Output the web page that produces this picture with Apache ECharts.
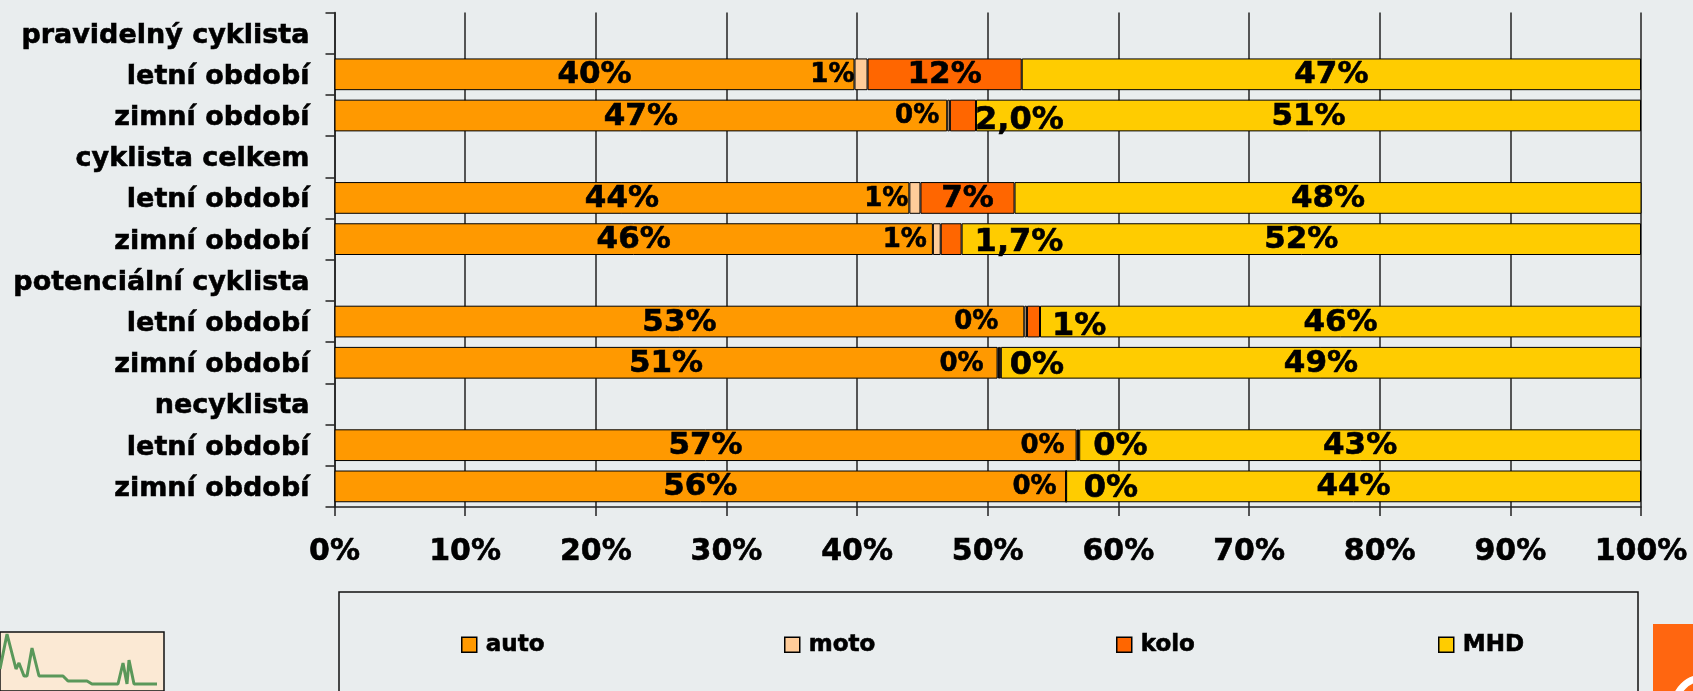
<!DOCTYPE html>
<html><head><meta charset="utf-8">
<style>html,body{margin:0;padding:0;background:#E9EDEE;overflow:hidden}#c{width:1693px;height:691px}</style>
<script src="https://cdn.jsdelivr.net/npm/echarts@6/dist/echarts.min.js"></script>
</head><body><div id="c"></div>
<script>
const categories = ['pravidelný cyklista','letní období','zimní období','cyklista celkem','letní období','zimní období','potenciální cyklista','letní období','zimní období','necyklista','letní období','zimní období'];
const auto = [null,39.8,46.9,null,44.0,45.8,null,52.8,50.75,null,56.8,56.0];
const moto = [null,1.0,0.2,null,0.85,0.6,null,0.2,0.1,null,0.1,0.0];
const kolo = [null,11.8,2.0,null,7.2,1.6,null,1.0,0.15,null,0.1,0.0];
const mhd  = [null,47.4,50.9,null,48.0,52.0,null,46.0,49.0,null,43.0,44.0];
const autoLabels = ['','40%','47%','','44%','46%','','53%','51%','','57%','56%'];
const motoLabels = ['','1%','0%','','1%','1%','','0%','0%','','0%','0%'];
const koloLabels = ['','12%','2,0%','','7%','1,7%','','1%','0%','','0%','0%'];
const mhdLabels  = ['','47%','51%','','48%','52%','','46%','49%','','43%','44%'];
const sparkX = [0,7,16,19,24,27,32,39,63,68,87,92,118,123,127,129,134,157];
const sparkY = [22,57,22,28,15,15,43,15,15,10,10,7,7,28,7,31,7,7];
// label nudges, px, by row (style only)
const motoNudge = [0,1,-7,0,0,-5,0,-25,-13,0,-11,-8];
const koloNudge = {2:[-13,5],5:[1,4],7:[0,5],8:[-3,3],10:[2,1],11:[5,2]};
const F = '"DejaVu Sans", Verdana, sans-serif';
const colors = {auto:'#FF9900',moto:'#FFCC99',kolo:'#FF6600',mhd:'#FFCC00'};
const heavy = {textBorderColor:'#000',textBorderWidth:0.6};
function seriesOf(name,vals,labels,color,labelFor){
  return {name,type:'bar',stack:'s',barWidth:'77%',xAxisIndex:0,yAxisIndex:0,
    itemStyle:{color,borderColor:'#000',borderWidth:1},
    emphasis:{disabled:true},
    data:vals.map((v,i)=>({value:v,label:labelFor(i,v,labels[i])}))};
}
const big = t=>Object.assign({show:!!t,formatter:t,fontFamily:F,fontWeight:'bold',fontSize:31,color:'#000',offset:[0,1]},heavy);
const option = {
  backgroundColor:'#E9EDEE',animation:false,
  grid:[{left:334.5,top:12.5,right:52,height:494.5,containLabel:false},
        {left:0,top:632,width:164,height:59,show:true,backgroundColor:'#FBE9D4',borderColor:'#111',borderWidth:1.5}],
  xAxis:[{type:'value',min:0,max:100,interval:10,gridIndex:0,
     axisLine:{show:true,lineStyle:{color:'#222',width:1.5}},
     axisTick:{show:true,length:9,lineStyle:{color:'#222',width:1.5}},
     splitLine:{show:true,lineStyle:{color:'#222',width:1.5}},
     axisLabel:Object.assign({formatter:'{value}%',fontFamily:F,fontWeight:'bold',fontSize:30,color:'#000',margin:30,hideOverlap:false,showMaxLabel:true,showMinLabel:true},heavy)},
    {type:'value',min:0,max:164,gridIndex:1,show:false}],
  yAxis:[{type:'category',inverse:true,gridIndex:0,data:categories,
     axisLine:{show:true,onZero:false,lineStyle:{color:'#222',width:1.5}},
     axisTick:{show:true,length:9,lineStyle:{color:'#222',width:1.5}},
     axisLabel:Object.assign({fontFamily:F,fontWeight:'bold',fontSize:27,color:'#000',margin:25,interval:0,verticalAlign:'top',lineHeight:5},heavy)},
    {type:'value',min:0,max:59,gridIndex:1,show:false}],
  legend:[['auto',461],['moto',784],['kolo',1116],['MHD',1438]].map(([n,x])=>({
     data:[n],left:x,top:633,padding:0,itemWidth:15,itemHeight:15,icon:'rect',
     itemStyle:{borderColor:'#000',borderWidth:1.5},selectedMode:false,
     textStyle:Object.assign({fontFamily:F,fontWeight:'bold',fontSize:23,color:'#000',padding:[0,0,0,4]},heavy)})),
  series:[
    seriesOf('auto',auto,autoLabels,colors.auto,(i,v,t)=>big(t)),
    seriesOf('moto',moto,motoLabels,colors.moto,(i,v,t)=>Object.assign(big(t),{position:'left',fontSize:26,distance:1,offset:[motoNudge[i],1]})),
    seriesOf('kolo',kolo,koloLabels,colors.kolo,(i,v,t)=>Object.assign(big(t),koloNudge[i]?{position:'right',distance:12,fontSize:32,offset:koloNudge[i]}:{position:'inside'})),
    seriesOf('MHD',mhd,mhdLabels,colors.mhd,(i,v,t)=>big(t)),
    {type:'line',xAxisIndex:1,yAxisIndex:1,silent:true,symbol:'none',legendHoverLink:false,
     lineStyle:{color:'#5A985A',width:3},data:sparkX.map((x,i)=>[x,sparkY[i]])}
  ],
  graphic:[
    {type:'rect',silent:true,z:-1,shape:{x:339,y:592,width:1299,height:120},style:{fill:'none',stroke:'#111',lineWidth:1.5}},
    {type:'rect',silent:true,shape:{x:1653,y:624,width:40,height:67},style:{fill:'#FF6610'}},
    {type:'circle',silent:true,shape:{cx:1703,cy:706,r:28},style:{fill:'none',stroke:'#fff',lineWidth:7}}
  ]
};
echarts.init(document.getElementById('c'),null,{renderer:'canvas'}).setOption(option);
</script></body></html>
